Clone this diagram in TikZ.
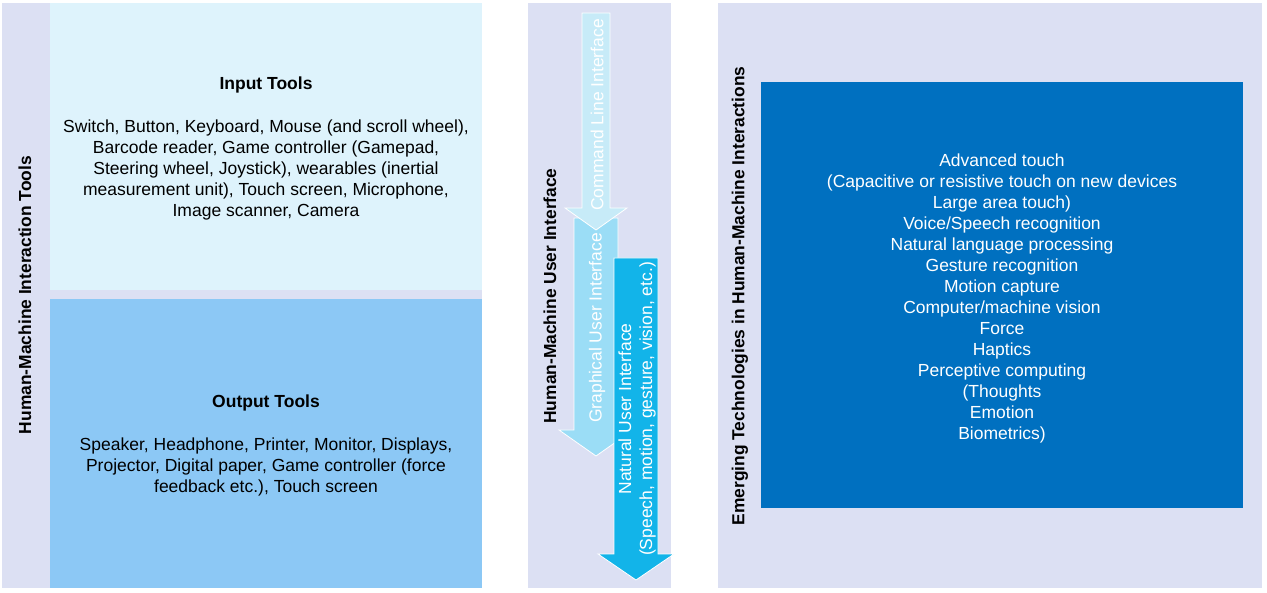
\documentclass[tikz,border=0pt]{standalone}
\usepackage{fontspec}
\setmainfont{Liberation Sans}
\usepackage{tikz}
\usepackage{xcolor}

\definecolor{panelbg}{RGB}{220,224,243}
\definecolor{inputbg}{RGB}{222,243,252}
\definecolor{outputbg}{RGB}{140,200,245}
\definecolor{emergebg}{RGB}{0,112,192}
\definecolor{cliblue}{RGB}{199,235,248}
\definecolor{guiblue}{RGB}{155,221,246}
\definecolor{nuiblue}{RGB}{18,180,233}

\tikzset{
  bodytext/.style={align=center,font=\fontsize{17.5}{21}\selectfont},
  titletext/.style={font=\fontsize{17.5}{21}\selectfont\bfseries},
  sidelabel/.style={rotate=90,font=\fontsize{17.4}{21}\selectfont\bfseries},
  arrowtext/.style={rotate=90,align=center,text=white,font=\fontsize{17.5}{21}\selectfont},
  uiarrow/.style={draw=white,line width=0.8pt}
}

\begin{document}
\begin{tikzpicture}[x=1pt,y=-1pt]
    \useasboundingbox (0,0) rectangle (1267,593);
    % panels
    \fill[panelbg] (2,3) rectangle (482,588);
    \fill[inputbg] (50,3) rectangle (482,290);
    \fill[outputbg] (50,299) rectangle (482,588);
    \fill[panelbg] (528,3) rectangle (671,588);
    \fill[panelbg] (718,3) rectangle (1262,588);
    \fill[emergebg] (761,82) rectangle (1243,508);

    \node[sidelabel] (toolsLabel) at (25,295) {Human-Machine Interaction Tools};
    \node[titletext] (inTitle) at (266,85) {Input Tools};
    \node[bodytext] (inBody) at (266,170) {Switch, Button, Keyboard, Mouse (and scroll wheel),\\
      Barcode reader, Game controller (Gamepad,\\
      Steering wheel, Joystick), wearables (inertial\\
      measurement unit), Touch screen, Microphone,\\
      Image scanner, Camera};
    \node[titletext] (outTitle) at (266,403) {Output Tools};
    \node[bodytext] (outBody) at (266,467) {Speaker, Headphone, Printer, Monitor, Displays,\\
      Projector, Digital paper, Game controller (force\\
      feedback etc.), Touch screen};

    % arrows
    \node[sidelabel] (uiLabel) at (550,296) {Human-Machine User Interface};
    \fill[guiblue,uiarrow] (574,218) -- (618,218) -- (618,430) -- (633,430) -- (596,456)
      -- (559,430) -- (574,430) -- cycle;
    \fill[cliblue,uiarrow] (582,13) -- (610,13) -- (610,208) -- (627,208) -- (596,230)
      -- (565,208) -- (582,208) -- cycle;
    \fill[nuiblue,uiarrow] (614,258) -- (658,258) -- (658,554) -- (674,554) -- (636,580)
      -- (598,554) -- (614,554) -- cycle;
    \node[arrowtext] (cliText) at (597,115) {Command Line Interface};
    \node[arrowtext] (guiText) at (597,328) {Graphical User Interface};
    \node[arrowtext] (nuiText) at (637,409) {Natural User Interface\\(Speech, motion, gesture, vision, etc.)};

    \node[sidelabel] (emergeLabel) at (740,296) {Emerging Technologies in Human-Machine Interactions};
    \node[bodytext,text=white] (emergeBody) at (1002,298) {Advanced touch\\
      (Capacitive or resistive touch on new devices\\
      Large area touch)\\
      Voice/Speech recognition\\
      Natural language processing\\
      Gesture recognition\\
      Motion capture\\
      Computer/machine vision\\
      Force\\
      Haptics\\
      Perceptive computing\\
      (Thoughts\\
      Emotion\\
      Biometrics)};
\end{tikzpicture}
\end{document}
